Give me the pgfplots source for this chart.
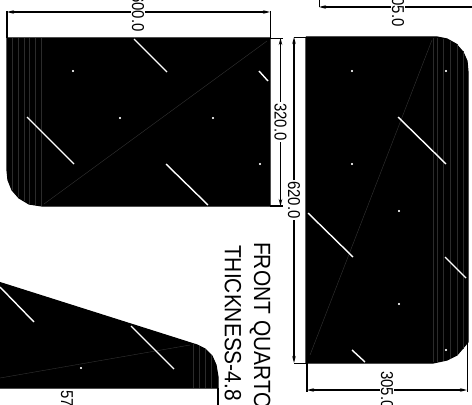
\documentclass[border=0pt]{standalone}
\usepackage{fontspec}
\setmainfont{Liberation Sans}
\usepackage{pgfplots}
\pgfplotsset{compat=1.18}
\usetikzlibrary{arrows.meta}
\tikzset{
  dimtext/.style={overlay, rotate=-90, yscale=1.15, fill=white, inner sep=1pt, font=\fontsize{15}{15}\selectfont},
  titletext/.style={overlay, rotate=-90, yscale=1.12, anchor=west, inner sep=0pt, font=\fontsize{21}{21}\selectfont},
}
\begin{document}
\begin{tikzpicture}
\begin{axis}[
  at={(0,0)}, anchor=south west,
  scale only axis, width=472bp, height=405bp,
  xmin=0, xmax=472, ymin=0, ymax=405, y dir=reverse,
  hide axis, clip=true, unbounded coords=jump,
  cycle list={{black, line width=1.2pt, mark=none}},
  dim/.style={black, line width=1.2pt, mark=none, {Stealth[length=7pt,width=3.5pt]}-{Stealth[length=7pt,width=3.5pt]}},
  stripe/.style={color=white!17!black, line width=0.6pt, mark=none},
  diag/.style={color=white!20!black, line width=0.4pt, mark=none},
  slot/.style={white, line width=1.4pt, mark=none},
  dots/.style={only marks, mark=*, mark size=0.9pt, mark options={white, draw=white}},
]
% plates
\addplot[black, line width=1.2pt, mark=none, fill=black] coordinates {(7,38) (270,38) (270,206) (42,206) (29,204) (19,198) (12,190) (8,180) (7,170) (7,38)};
\addplot[black, line width=1.2pt, mark=none, fill=black] coordinates {(306,37) (437,37) (447,39) (456,44) (463,52) (467,61) (468,72) (468,342) (463,348) (457,355) (447,360) (433,363) (306,363) (306,37)};
\addplot[black, line width=1.2pt, mark=none, fill=black] coordinates {(-5,281) (197,345) (205,349) (212,356) (216,365) (218,377) (218,388) (-5,388) (-5,281)};
% bend lines at the rounded edges
\addplot[stripe] coordinates {(12,38) (12,190) (nan,nan) (18,38) (18,197) (nan,nan) (24,38) (24,201) (nan,nan) (29,38) (29,204) (nan,nan) (35,38) (35,205) (nan,nan) (41,38) (41,206)};
\addplot[stripe] coordinates {(433,38) (433,362) (nan,nan) (437,38) (437,362) (nan,nan) (443,39) (443,361) (nan,nan) (450,41) (450,359) (nan,nan) (457,44) (457,355) (nan,nan) (463,51) (463,349)};
\addplot[stripe] coordinates {(193,344) (193,388) (nan,nan) (199,346) (199,388) (nan,nan) (205,349) (205,388) (nan,nan) (211,355) (211,388)};
% diagonals
\addplot[diag] coordinates {(44,204) (267,41)};
\addplot[diag] coordinates {(432,40) (310,355)};
\addplot[diag] coordinates {(0,378) (190,345)};
% slots and holes
\addplot[slot] coordinates {(134,39) (167,72) (nan,nan) (259,71) (268,81) (nan,nan) (27,117) (74,164) (nan,nan) (166,164) (208,205)};
\addplot[slot] coordinates {(398,117) (446,164) (nan,nan) (308,213) (353,257) (nan,nan) (445,257) (466,278) (nan,nan) (352,350) (365,362)};
\addplot[slot] coordinates {(0,287) (34,322) (nan,nan) (131,326) (174,369)};
\addplot[dots] coordinates {(73,71) (120,118) (213,118) (260,164) (352,71) (446,71) (352,164) (399,211) (399,304) (446,350) (81,368)};
% extension lines
\addplot coordinates {(7,11) (7,38)};
\addplot coordinates {(270,11) (270,38)};
\addplot coordinates {(270,38) (283,38)};
\addplot coordinates {(270,206) (283,206)};
\addplot coordinates {(294,37) (306,37)};
\addplot coordinates {(294,363) (306,363)};
\addplot coordinates {(307,363) (307,392)};
\addplot coordinates {(467,342) (467,392)};
\addplot coordinates {(319,0) (319,7)};
\addplot coordinates {(218,388) (218,405)};
% dimension lines
\addplot[dim] coordinates {(7,12) (270,12)};
\addplot[dim] coordinates {(280.5,38) (280.5,206)};
\addplot[dim] coordinates {(294,37) (294,363)};
\addplot[dim] coordinates {(307,390) (467,390)};
\addplot[dim] coordinates {(319,7) (490,7)};
% dimension texts
\node[dimtext] at (axis cs:138,13) {600.0};
\node[dimtext] at (axis cs:280.5,122) {320.0};
\node[dimtext] at (axis cs:294,200) {620.0};
\node[dimtext] at (axis cs:398,8) {305.0};
\node[dimtext] at (axis cs:387,390) {305.0};
\node[dimtext] at (axis cs:67,409) {575.0};
% title block
\node[titletext] at (axis cs:260,242) {FRONT QUARTOR};
\node[titletext] at (axis cs:233,245) {THICKNESS-4.8};
\end{axis}
\end{tikzpicture}
\end{document}
